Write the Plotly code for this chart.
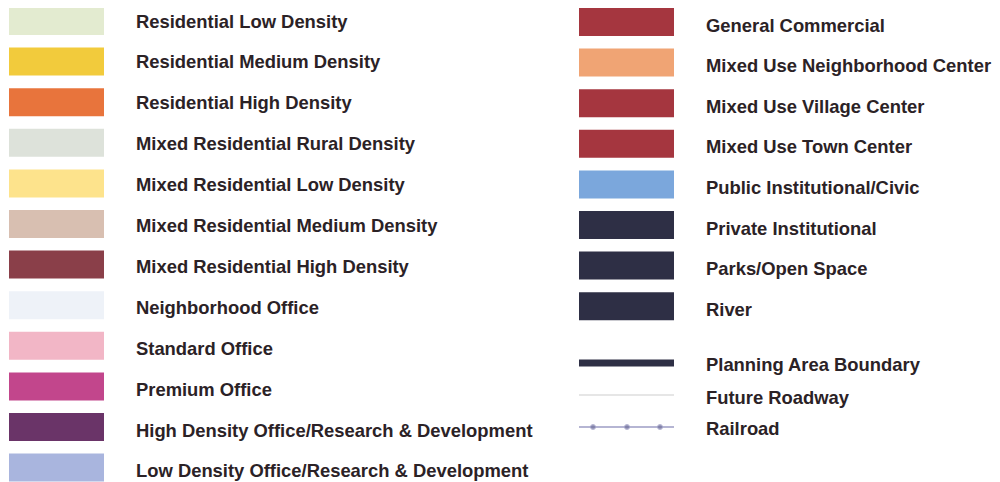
import plotly.graph_objects as go

# ---- data ----
left_labels = [
    "Residential Low Density", "Residential Medium Density", "Residential High Density",
    "Mixed Residential Rural Density", "Mixed Residential Low Density",
    "Mixed Residential Medium Density", "Mixed Residential High Density",
    "Neighborhood Office", "Standard Office", "Premium Office",
    "High Density Office/Research & Development", "Low Density Office/Research & Development",
]
left_colors = [
    "#e3ebd0", "#f2cb3c", "#e8743c", "#dde2da", "#fde38c", "#d8bfb1",
    "#8a3f49", "#eef2f8", "#f2b6c6", "#c2468c", "#6a3468", "#a9b5de",
]
right_labels = [
    "General Commercial", "Mixed Use Neighborhood Center", "Mixed Use Village Center",
    "Mixed Use Town Center", "Public Institutional/Civic", "Private Institutional",
    "Parks/Open Space", "River",
]
right_colors = [
    "#a5363f", "#f0a474", "#a5363f", "#a5363f", "#7ba7dc", "#2e2f45", "#2e2f45", "#2e2f45",
]
line_labels = ["Planning Area Boundary", "Future Roadway", "Railroad"]
line_colors = ["#2e2f45", "#e6e6e6", "#9c9cc4"]

# ---- layout helpers ----
L_SW_X, SW_W, SW_H = 9, 95, 28
R_SW_X = 579
L_TXT_X, R_TXT_X = 136, 706
L_Y0, R_Y0, STEP = 21, 22, 40.6
TXT_STEP = 40.9
line_y = [363, 395, 427]
txt_color = "#2b2226"
font = dict(family="Liberation Sans, Arial, sans-serif", size=18.4, color=txt_color, weight="bold")
OFF = 8  # page body margin

ly = [L_Y0 + i * STEP for i in range(len(left_labels))]
ry = [R_Y0 + i * STEP for i in range(len(right_labels))]
lty = [23 + i * TXT_STEP for i in range(len(left_labels))]
rty = [27 + i * 40.6 for i in range(len(right_labels))]

fig = go.Figure()
fig.add_trace(go.Bar(orientation="h", y=ly, x=[SW_W] * len(ly), base=[L_SW_X] * len(ly),
                     width=SW_H, marker=dict(color=left_colors, line=dict(width=0)),
                     hoverinfo="skip", showlegend=False))
fig.add_trace(go.Bar(orientation="h", y=ry, x=[SW_W] * len(ry), base=[R_SW_X] * len(ry),
                     width=SW_H, marker=dict(color=right_colors, line=dict(width=0)),
                     hoverinfo="skip", showlegend=False))
# line symbols
fig.add_trace(go.Bar(orientation="h", y=[line_y[0]], x=[SW_W], base=[R_SW_X], width=7,
                     marker=dict(color=line_colors[0], line=dict(width=0)),
                     hoverinfo="skip", showlegend=False))
fig.add_trace(go.Scatter(x=[R_SW_X, R_SW_X + SW_W], y=[line_y[1]] * 2, mode="lines",
                         line=dict(color=line_colors[1], width=2), hoverinfo="skip", showlegend=False))
fig.add_trace(go.Scatter(x=[R_SW_X, R_SW_X + 14, R_SW_X + 48, R_SW_X + 81, R_SW_X + SW_W],
                         y=[line_y[2]] * 5, mode="lines+markers",
                         line=dict(color=line_colors[2], width=1.5),
                         marker=dict(size=[0, 5, 5, 5, 0], color="#6d6d9a"),
                         hoverinfo="skip", showlegend=False))

# text labels
fig.add_trace(go.Scatter(x=[L_TXT_X] * len(lty), y=lty, mode="text", cliponaxis=False,
                         text=left_labels, textposition="middle right", textfont=font,
                         hoverinfo="skip", showlegend=False))
fig.add_trace(go.Scatter(x=[R_TXT_X] * len(rty), y=rty, mode="text", cliponaxis=False,
                         text=right_labels, textposition="middle right", textfont=font,
                         hoverinfo="skip", showlegend=False))
fig.add_trace(go.Scatter(x=[R_TXT_X] * 3, y=[366, 399, 430], mode="text", cliponaxis=False,
                         text=line_labels, textposition="middle right", textfont=font,
                         hoverinfo="skip", showlegend=False))

fig.update_layout(
    width=1000, height=482, margin=dict(l=0, r=0, t=0, b=0),
    paper_bgcolor="white", plot_bgcolor="white", barmode="overlay",
    xaxis=dict(range=[OFF, 1000 + OFF], visible=False, fixedrange=True),
    yaxis=dict(range=[482 + OFF, OFF], visible=False, fixedrange=True),
)
fig.write_html("out.html")
